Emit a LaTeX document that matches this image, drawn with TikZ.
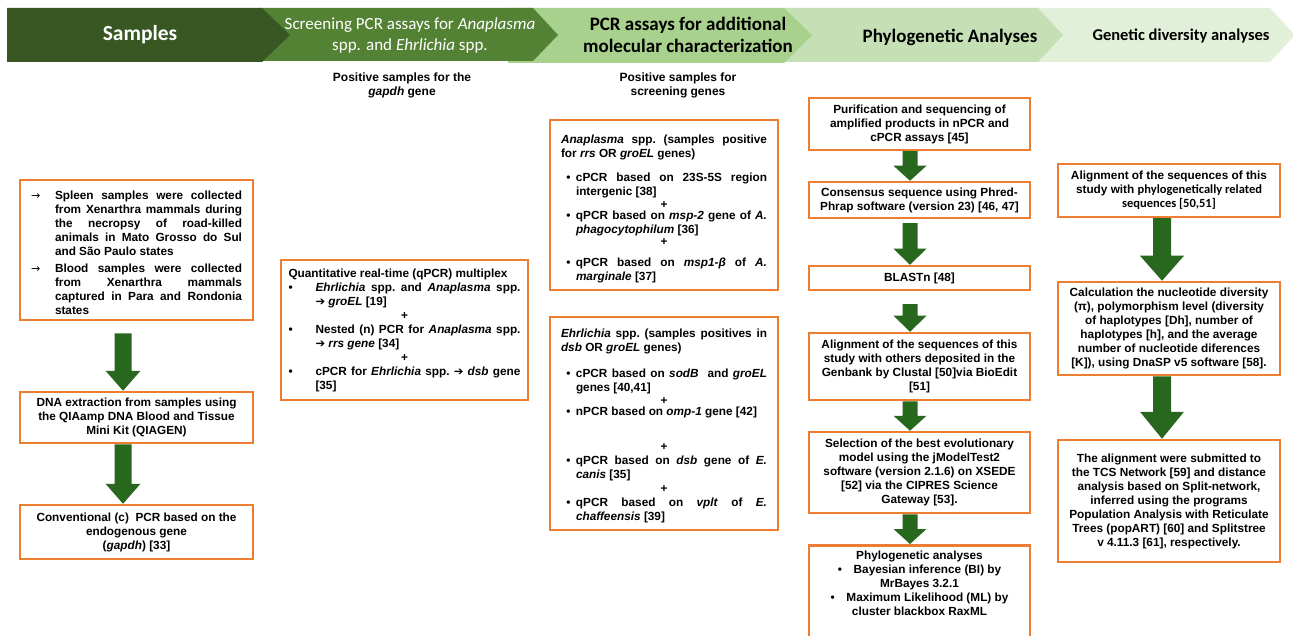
\documentclass[tikz,border=0pt]{standalone}
\usepackage{fontspec}
\setmainfont{Liberation Sans}
\newfontfamily\hdr{Carlito}
\newfontfamily\djv{DejaVu Sans}
\usetikzlibrary{calc}
\definecolor{borange}{RGB}{237,125,49}
\definecolor{agreen}{RGB}{40,104,30}
\definecolor{hcA}{RGB}{56,87,35}
\definecolor{hcB}{RGB}{84,130,53}
\definecolor{hcC}{RGB}{169,209,142}
\definecolor{hcD}{RGB}{197,224,180}
\definecolor{hcE}{RGB}{226,240,217}
\newcommand\bodyfont{\fontsize{11.8}{14}\selectfont\bfseries\frenchspacing\tolerance=10000\hbadness=10000}
\newcommand\plusl[2]{\par\vspace{#1}\centerline{+}\par\vspace{#2}}
\newcommand\bitem[1]{\par\hangindent=15pt\hangafter=1\noindent\makebox[15pt][c]{•}#1\par}
\newcommand\arritem[2]{\par\hangindent=#1\hangafter=1\noindent\makebox[#1][l]{{\djv\mdseries\fontsize{11}{14}\selectfont →}}#2\par}
\newcommand\dotitem[2]{\par\hangindent=#1\hangafter=1\noindent\makebox[#1][l]{•}#2\par}
\newcommand\harr{{\djv\bfseries\fontsize{11.5}{14}\selectfont ➔}}
\newcommand\barrow[7]{\fill[agreen] let \p1=($(#1.south -| #3)+(0,#7)$), \p2=(#2.north -| #3) in
  (\x1-#4,\y1) -- (\x1+#4,\y1) -- (\x1+#4,\y2+#6) -- (\x1+#5,\y2+#6) -- (\x1,\y2) -- (\x1-#5,\y2+#6) -- (\x1-#4,\y2+#6) -- cycle;}
\tikzset{
  box/.style={draw=borange, line width=2.5pt, fill=white, inner sep=0pt, font=\bodyfont},
  cbox/.style={box, align=center},
  jbox/.style={box, align=justify},
  jtext/.style={inner sep=0pt, font=\bodyfont, align=justify},
  hdrtxt/.style={font=\hdr\bfseries\fontsize{19}{22}\selectfont, align=center},
  colhead/.style={font=\fontsize{12}{14}\selectfont\bfseries, align=center},
}
\begin{document}
\begin{tikzpicture}[x=1pt,y=-1pt]
\clip (0,0) rectangle (1293,636);
\fill[white] (0,0) rectangle (1293,636);
% header chevrons
\fill[hcE] (1030,8) -- (1270,8) -- (1295,35) -- (1270,62) -- (1030,62) -- cycle;
\fill[hcD] (780,8) -- (1038,8) -- (1063,35) -- (1038,62) -- (780,62) -- cycle;
\fill[hcC] (508,8) -- (784,8) -- (812,35) -- (784,63) -- (508,63) -- cycle;
\fill[hcB] (260,8) -- (533,8) -- (558,35) -- (533,61) -- (260,61) -- cycle;
\fill[hcA] (7,8) -- (262,8) -- (290,35) -- (262,62) -- (7,62) -- cycle;
\node[hdrtxt, text=white, font=\hdr\bfseries\fontsize{21.5}{24}\selectfont] (h1) at (140,35) {Samples};
\node[hdrtxt, text=white, font=\hdr\fontsize{17}{21}\selectfont] (h2) at (410,35) {Screening PCR assays for \textit{Anaplasma}\\ spp. and \textit{Ehrlichia} spp.};
\node[hdrtxt] (h3) at (688,35) {PCR assays for additional\\ molecular characterization};
\node[hdrtxt] (h4) at (950,37) {Phylogenetic Analyses};
\node[hdrtxt, font=\hdr\bfseries\fontsize{16.5}{20}\selectfont] (h5) at (1181,36) {Genetic diversity analyses};

% column headings
\node[colhead] (t2) at (402,85) {Positive samples for the\\ \textit{gapdh} gene};
\node[colhead] (t3) at (678,85) {Positive samples for\\ screening genes};

% column 1
\node[jbox, text width=211pt, minimum width=233pt, minimum height=140pt] (s1) at (136.5,250) {%
\arritem{24pt}{Spleen samples were collected\linebreak from Xenarthra mammals during\linebreak the necropsy of road-killed\linebreak animals in Mato Grosso do Sul\linebreak and São Paulo states}\vspace{3pt}
\arritem{24pt}{Blood samples were collected\linebreak from Xenarthra mammals\linebreak captured in Para and Rondonia\linebreak states}};
\node[cbox, minimum width=233pt, minimum height=51pt] (s2) at (136.5,417.5) {DNA extraction from samples using\\ the QIAamp DNA Blood and Tissue\\ Mini Kit (QIAGEN)};
\node[cbox, minimum width=233pt, minimum height=54pt] (s3) at (136.5,532) {Conventional (c)\ \ PCR based on the\\ endogenous gene\\ (\textit{gapdh}) [33]};

% column 2
\node[jbox, text width=232pt, minimum width=247pt, minimum height=140pt] (q1) at (404.5,330) {%
Quantitative real-time (qPCR) multiplex\par
\dotitem{27pt}{\textit{Ehrlichia} spp. and \textit{Anaplasma} spp.\linebreak \harr\ \textit{groEL} [19]}
\centerline{+}
\dotitem{27pt}{Nested (n) PCR for \textit{Anaplasma} spp.\linebreak \harr\ \textit{rrs gene} [34]}
\centerline{+}
\dotitem{27pt}{cPCR for \textit{Ehrlichia} spp. \harr\ \textit{dsb} gene\linebreak {[35]}}};

% column 3
\node[box, minimum width=228pt, minimum height=170pt] (a1) at (664,205) {};
\node[jtext, text width=206pt] (a1t) at ([yshift=-4pt]a1.center) {%
\textit{Anaplasma} spp. (samples positive\linebreak for \textit{rrs} OR \textit{groEL} genes)\par\vspace{10pt}
\bitem{cPCR based on 23S-5S region\linebreak intergenic [38]}
\plusl{-1pt}{-3pt}
\bitem{qPCR based on \textit{msp-2} gene of \textit{A.}\linebreak \textit{phagocytophilum} [36]}
\plusl{-2pt}{7pt}
\bitem{qPCR based on \textit{msp1-β} of \textit{A.}\linebreak \textit{marginale} [37]}};
\node[box, minimum width=228pt, minimum height=213pt] (e1) at (664,423.5) {};
\node[jtext, text width=206pt] (e1t) at ([yshift=-2pt]e1.center) {%
\textit{Ehrlichia} spp. (samples positives in\linebreak \textit{dsb} OR \textit{groEL} genes)\par\vspace{12pt}
\bitem{cPCR based on \textit{sodB}\ \ and \textit{groEL}\linebreak genes [40,41]}
\plusl{-1pt}{-3pt}
\bitem{nPCR based on \textit{omp-1} gene [42]}
\plusl{21pt}{0pt}
\bitem{qPCR based on \textit{dsb} gene of \textit{E.}\linebreak \textit{canis} [35]}
\plusl{0pt}{0pt}
\bitem{qPCR based on \textit{vplt} of \textit{E.}\linebreak \textit{chaffeensis} [39]}};

% column 4
\node[cbox, minimum width=221pt, minimum height=52pt] (p1) at (919.5,124) {Purification and sequencing of\\ amplified products in nPCR and\\ cPCR assays [45]};
\node[cbox, minimum width=221pt, minimum height=36pt] (p2) at (919.5,200) {Consensus sequence using Phred-\\ Phrap software (version 23) [46, 47]};
\node[cbox, minimum width=221pt, minimum height=24pt] (p3) at (919.5,278) {BLASTn [48]};
\node[cbox, minimum width=221pt, minimum height=67pt] (p4) at (919.5,366.5) {Alignment of the sequences of this\\ study with others deposited in the\\ Genbank by Clustal [50]via BioEdit\\ {[51]}};
\node[cbox, minimum width=221pt, minimum height=81pt] (p5) at (919.5,472.5) {Selection of the best evolutionary\\ model using the jModelTest2\\ software (version 2.1.6) on XSEDE\\ {[52]} via the CIPRES Science\\ Gateway [53].};
\node[cbox, minimum width=221pt, anchor=north, inner ysep=6pt, text depth=70pt] (p6) at (919.5,544) {Phylogenetic analyses\\ •\quad Bayesian inference (BI) by\\ MrBayes 3.2.1\\ •\quad Maximum Likelihood (ML) by\\ cluster blackbox RaxML};

% column 5
\node[cbox, minimum width=222pt, minimum height=53pt] (g1) at (1169,190.5) {Alignment of the sequences of this\\ study with {\hdr\bfseries\fontsize{12.5}{13}\selectfont phylogenetically related}\\ {\hdr\bfseries\fontsize{12.5}{13}\selectfont sequences [50,51]}};
\node[cbox, minimum width=222pt, minimum height=93pt] (g2) at (1169,328.5) {Calculation the nucleotide diversity\\ (π), polymorphism level (diversity\\ of haplotypes [Dh], number of\\ haplotypes [h], and the average\\ number of nucleotide diferences\\ {[K]}), using DnaSP v5 software [58].};
\node[cbox, minimum width=222pt, minimum height=122pt] (g3) at (1169,501) {The alignment were submitted to\\ the TCS Network [59] and distance\\ analysis based on Split-network,\\ inferred using the programs\\ Population Analysis with Reticulate\\ Trees (popART) [60] and Splitstree\\ v 4.11.3 [61], respectively.};

% block arrows
\coordinate (ax1) at (123,0);
\coordinate (ax4) at (910,0);
\coordinate (ax5) at (1162,0);
\barrow{s1}{s2}{ax1}{8.5pt}{17.5pt}{20pt}{12}
\barrow{s2}{s3}{ax1}{8.5pt}{17.5pt}{20pt}{0}
\barrow{p1}{p2}{ax4}{7.5pt}{16.5pt}{15pt}{0}
\barrow{p2}{p3}{ax4}{7.5pt}{16.5pt}{16pt}{4}
\barrow{p3}{p4}{ax4}{7.5pt}{16.5pt}{16pt}{13}
\barrow{p4}{p5}{ax4}{7.5pt}{16.5pt}{15pt}{0}
\barrow{p5}{p6}{ax4}{7.5pt}{16.5pt}{15pt}{0}
\barrow{g1}{g2}{ax5}{9pt}{22pt}{25pt}{0}
\barrow{g2}{g3}{ax5}{9pt}{22pt}{27pt}{0}
\end{tikzpicture}
\end{document}
